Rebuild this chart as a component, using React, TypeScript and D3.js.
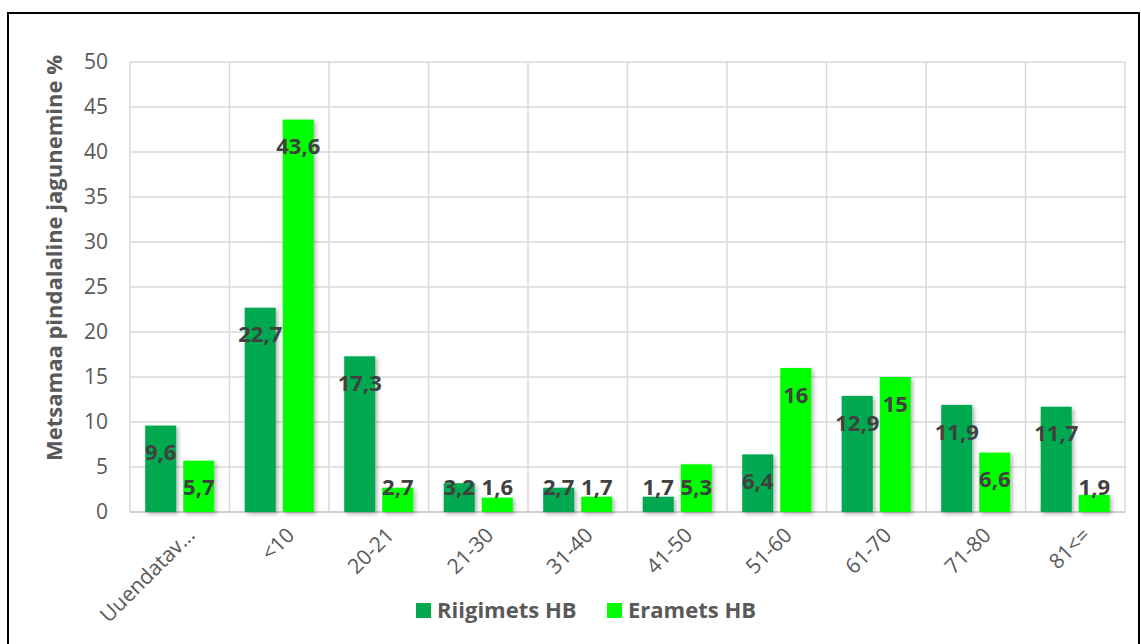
import React from "react";
import { scaleBand, scaleLinear, range } from "d3";

const categories = ["Uuendatav...", "<10", "20-21", "21-30", "31-40", "41-50", "51-60", "61-70", "71-80", "81<="];
const seriesNames = ["Riigimets HB", "Eramets HB"];
const riigimets = [9.6, 22.7, 17.3, 3.2, 2.7, 1.7, 6.4, 12.9, 11.9, 11.7];
const eramets = [5.7, 43.6, 2.7, 1.6, 1.7, 5.3, 16, 15, 6.6, 1.9];
const yTicks = [0, 5, 10, 15, 20, 25, 30, 35, 40, 45, 50];
const colors = ["#00A94F", "#00FF00"];

const W = 1141;
const H = 644;
const margin = { top: 62, right: 16, bottom: 132, left: 130 };

function App() {
  const width = W - margin.left - margin.right;
  const height = H - margin.top - margin.bottom;

  const x = scaleBand().domain(categories).range([0, width]).padding(0);
  const xs = scaleBand().domain(seriesNames).range([0, x.bandwidth()]).paddingInner(0.184).paddingOuter(0.4);
  const y = scaleLinear().domain([0, 50]).range([height, 0]);

  const series = [riigimets, eramets];
  const fmt = (v: number) => String(v).replace(".", ",");
  const font = "'Open Sans', sans-serif";

  return (
    <svg width={W} height={H} style={{ position: "absolute", left: 0, top: 0 }}>
      <defs>
        <filter id="shadow" x="-20%" y="-20%" width="150%" height="150%">
          <feDropShadow dx="2" dy="2" stdDeviation="2" floodColor="#000" floodOpacity="0.3" />
        </filter>
      </defs>
      <rect x={0} y={0} width={W} height={H} fill="#fff" />
      <rect x={8} y={13} width={1131} height={H + 20} fill="none" stroke="#000" strokeWidth={2} />
      <g transform={`translate(${margin.left},${margin.top})`}>
        {yTicks.map(t => (
          <line key={"h" + t} x1={0} x2={width} y1={y(t)} y2={y(t)} stroke="#d9d9d9" strokeWidth={1.5} />
        ))}
        {range(categories.length + 1).map(i => {
          const xx = i < categories.length ? x(categories[i])! : width;
          return <line key={"v" + i} x1={xx} x2={xx} y1={0} y2={height} stroke="#d9d9d9" strokeWidth={1.5} />;
        })}
        <line x1={0} x2={width} y1={height} y2={height} stroke="#d0d0d0" strokeWidth={2} />
        {yTicks.map(t => (
          <text key={"yt" + t} x={-22} y={y(t)} dy="0.35em" textAnchor="end" fontFamily={font} fontSize={21} fill="#595959">
            {t}
          </text>
        ))}
        {series.map((vals, si) =>
          vals.map((v, i) => (
            <rect
              key={`b${si}-${i}`}
              x={x(categories[i])! + xs(seriesNames[si])!}
              y={y(v)}
              width={xs.bandwidth()}
              height={height - y(v)}
              fill={colors[si]}
              filter="url(#shadow)"
            />
          ))
        )}
        {series.map((vals, si) =>
          vals.map((v, i) => {
            const cy = Math.min(y(v) + 27, height - 25);
            return (
              <text
                key={`l${si}-${i}`}
                x={x(categories[i])! + xs(seriesNames[si])! + xs.bandwidth() / 2}
                y={cy}
                dy="0.35em"
                textAnchor="middle"
                fontFamily={font}
                fontWeight="bold"
                fontSize={22}
                fill="#404040"
              >
                {fmt(v)}
              </text>
            );
          })
        )}
        {categories.map(c => {
          const cx = x(c)! + x.bandwidth() / 2 + 6;
          const cy = height + 14;
          return (
            <text
              key={"xt" + c}
              transform={`translate(${cx},${cy}) rotate(-45)`}
              textAnchor="end"
              dy="0.7em"
              fontFamily={font}
              fontSize={21}
              fill="#595959"
            >
              {c}
            </text>
          );
        })}
        <text
          transform={`translate(${-68},${height / 2 - 29}) rotate(-90)`}
          textAnchor="middle"
          fontFamily={font}
          fontWeight="bold"
          fontSize={22}
          fill="#595959"
        >
          Metsamaa pindalaline jagunemine %
        </text>
      </g>
      <g transform="translate(416,603)">
        {seriesNames.map((s, i) => (
          <g key={s} transform={`translate(${i * 191},0)`}>
            <rect x={0} y={0} width={15} height={15} fill={colors[i]} />
            <text x={21} y={7.5} dy="0.35em" fontFamily={font} fontWeight="bold" fontSize={22} fill="#595959">
              {s}
            </text>
          </g>
        ))}
      </g>
    </svg>
  );
}

export default App;
